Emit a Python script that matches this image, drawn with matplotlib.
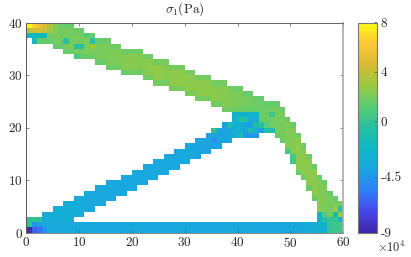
import numpy as np
import matplotlib
matplotlib.use('Agg')
import matplotlib.pyplot as plt
from matplotlib.colors import LinearSegmentedColormap

# band outlines per column (row numbers, 0 = bottom)
upper_top = [39]*9 + [38]*2 + [37]*2 + [36]*3 + [35]*2 + [34]*4 + [33]*2 + [32]*3 + [31]*3 + [30]*2 + [29]*3 + [28]*3 + [27]*3 + [26]*2 + [25]*2 + [24]*3 + [23, 21, 20, 18, 16, 14, 12, 10, 9, 7, 6, 5]
upper_low = [37] + [36]*4 + [35]*2 + [34]*2 + [33]*4 + [32]*2 + [31]*3 + [30]*4 + [29]*2 + [28]*3 + [27]*3 + [26]*2 + [25]*3 + [24]*2 + [23]*7 + [19]*3 + [18, 17, 15, 13, 11, 10, 8, 6, 0, 0, 0, 0, 0]
strut_top = [2]*3 + [3]*2 + [4]*2 + [5]*2 + [6]*2 + [7]*2 + [8]*2 + [9]*3 + [10]*2 + [11]*2 + [12]*2 + [13]*2 + [14]*2 + [15]*2 + [16]*2 + [17]*2 + [18] + [19]*2 + [20]*2 + [22]*5
strut_low = [0]*9 + [3]*2 + [4]*2 + [5]*2 + [6]*2 + [7]*2 + [8]*2 + [9]*2 + [10]*2 + [11]*2 + [12]*2 + [13]*2 + [14]*2 + [15]*2 + [16]*2 + [17]*2 + [18]*5

# stress values, units of 1e4 Pa
upper_mid = [1.7, 1.8, 1.8, 1.8, 1.9, 1.9, 1.9, 2.0, 1.9, 2.0, 1.9, 2.1, 2.0, 2.0, 2.1, 2.1,
             2.1, 2.2, 2.3, 2.4, 2.4, 2.3, 2.4, 2.5, 2.5, 2.5, 2.4, 2.5, 2.6, 2.5, 2.5, 2.6,
             2.5, 2.5, 2.6, 2.5, 2.4, 2.4, 2.2, 2.1, 2.1, 1.9, 1.8, 1.8, 1.7, 1.7, 1.8, 1.9,
             2.0, 2.2, 2.3, 2.5, 2.6, 2.6, 2.5, 2.3, 2.1, 2.0, 1.8, 1.7]
upper_edge = [1.4, 1.4, 1.4, 1.5, 1.5, 1.5, 1.5, 1.5, 1.5, 1.6, 1.6, 1.6, 1.6, 1.6, 1.6, 1.7,
              1.7, 1.7, 1.7, 1.7, 1.7, 1.7, 1.8, 1.8, 1.9, 1.9, 1.9, 1.9, 1.9, 1.9, 2.0, 2.0,
              1.9, 1.9, 1.9, 1.9, 1.8, 1.8, 1.7, 1.7, 1.7, 1.6, 1.6, 1.6, 1.6, 1.6, 1.6, 1.6,
              1.6, 1.7, 1.7, 1.7, 1.7, 1.7, 1.6, 1.6, 1.5, 1.5, 1.5, 1.5]
strut_vals = [-3.4, -3.4, -3.4, -3.3, -3.2, -3.2, -3.2, -3.1, -3.1, -3.3, -3.5, -3.6, -3.7, -3.7, -3.7, -3.7,
              -3.7, -3.8, -3.8, -3.8, -3.8, -3.8, -3.8, -3.8, -3.8, -3.8, -3.8, -3.8, -3.8, -3.8, -3.8, -3.8,
              -3.9, -3.9, -3.9, -4.0, -3.9, -3.9, -3.7, -3.2, -3.0, -3.0, -3.0, -3.0]
chord_vals = [-3.6, -3.6, -3.6, -3.5, -3.5, -3.5, -3.5, -3.5, -3.5, -3.6, -3.7, -3.7, -3.7, -3.7, -3.7, -3.7,
              -3.7, -3.7, -3.7, -3.7, -3.7, -3.7, -3.7, -3.7, -3.7, -3.7, -3.7, -3.7, -3.7, -3.7, -3.7, -3.7,
              -3.7, -3.7, -3.7, -3.7, -3.7, -3.7, -3.7, -3.7, -3.7, -3.7, -3.7, -3.7, -3.7, -3.7, -3.7, -3.7,
              -3.7, -3.6, -3.6, -3.6, -3.5, -3.4, -3.2, -3.0, -2.6, 0.0, 0.4, 0.3]

# cells that stand out, (row, col): value
spot_vals = {
    (39, 0): 8.0, (39, 1): 6.6, (39, 2): 5.6, (39, 3): 4.8, (39, 4): 3.5, (39, 5): 2.5,
    (38, 0): 3.6, (38, 1): 4.2, (38, 2): 4.5, (38, 3): 4.2, (38, 4): 3.2, (38, 5): 2.3,
    (37, 0): -2.0, (37, 1): -2.0, (37, 2): -2.0, (37, 3): -2.0, (36, 1): -1.8,
    (36, 7): -0.5, (36, 12): -0.5, (37, 11): 1.0, (35, 9): -0.4, (35, 10): -0.4,
    (35, 12): 3.0, (33, 9): 0.6,
    (2, 0): -0.2, (2, 1): -0.2, (2, 2): -0.4, (1, 0): -0.2, (1, 1): -4.6, (1, 2): -4.4,
    (0, 0): -8.8, (0, 1): -6.6, (0, 2): -6.0, (0, 3): -5.0,
    (22, 39): -2.8, (22, 40): -2.8, (22, 41): -2.8, (22, 42): -2.6, (22, 43): -2.6, (22, 46): 0.3,
    (21, 39): -2.6, (21, 40): -0.6, (21, 41): -0.6, (21, 42): -3.0, (21, 43): -3.4,
    (20, 37): -4.2, (20, 38): -1.0, (20, 39): -3.0, (20, 40): -3.0, (20, 41): -3.6, (20, 42): -4.2,
    (20, 43): -1.0, (20, 44): -0.5, (20, 45): 1.0,
    (19, 35): -0.2, (19, 41): -4.0, (19, 42): -1.0, (19, 43): -3.2, (19, 44): -4.4, (19, 45): -1.0, (19, 46): -1.0,
    (18, 40): -1.0, (18, 41): -4.5, (18, 42): -4.5, (18, 43): -4.5, (17, 35): -5.0,
    (15, 49): 0.3, (14, 50): 0.3, (13, 50): 0.3,
    (5, 59): 2.0, (4, 58): 3.0, (4, 59): -0.5,
    (3, 55): -2.5, (3, 56): 1.0, (3, 58): -1.5, (3, 59): 3.0,
    (2, 55): -2.2, (2, 56): -0.5, (2, 57): 0.0, (2, 58): 0.0, (2, 59): -2.2,
    (1, 55): -2.5, (1, 56): -2.2, (0, 55): -3.3, (0, 56): -3.3,
}

x_ticks = [0, 10, 20, 30, 40, 50, 60]
y_ticks = [0, 10, 20, 30, 40]
cbar_ticks = [-9, -4.5, 0, 4, 8]
cbar_labels = ['-9', '-4.5', '0', '4', '8']

# parula, sampled by eye from the colorbar
parula_colors = [(0.2422, 0.1504, 0.6603), (0.2780, 0.2800, 0.9200), (0.1800, 0.5000, 0.9700),
                 (0.1000, 0.6500, 0.8800), (0.0500, 0.7200, 0.7700), (0.1500, 0.7500, 0.6300),
                 (0.3500, 0.8000, 0.4600), (0.6000, 0.7900, 0.2500), (0.8500, 0.7300, 0.2000),
                 (0.9900, 0.7800, 0.2200), (0.9769, 0.9839, 0.0805)]
parula = LinearSegmentedColormap.from_list('parula', parula_colors, N=256)

grid = np.full((40, 60), np.nan)
for col in range(60):
    grid[upper_low[col]:upper_top[col] + 1, col] = upper_mid[col]
    grid[upper_top[col], col] = upper_edge[col]
    if upper_low[col] > 0:
        grid[upper_low[col], col] = upper_edge[col]
for col in range(len(strut_top)):
    grid[strut_low[col]:strut_top[col] + 1, col] = strut_vals[col]
for col in range(60):
    grid[0:2, col] = chord_vals[col]
for (row, col), val in spot_vals.items():
    grid[row, col] = val

plt.rcParams['font.family'] = 'cmr10'
plt.rcParams['mathtext.fontset'] = 'cm'
plt.rcParams['axes.unicode_minus'] = False
plt.rcParams['axes.formatter.use_mathtext'] = True

fig = plt.figure(figsize=(4.11, 2.57), dpi=100)
ax = fig.add_axes([26.3 / 411, 1 - 232.5 / 257, 317 / 411, 210 / 257])
im = ax.pcolormesh(np.arange(61), np.arange(41), np.ma.masked_invalid(grid),
                   cmap=parula, vmin=-9, vmax=8, edgecolors='none')
ax.set_xlim(0, 60)
ax.set_ylim(0, 40)
ax.set_xticks(x_ticks)
ax.set_yticks(y_ticks)
ax.tick_params(direction='in', length=2.2, width=0.5, top=True, right=True,
               labelsize=9.5, color='#555555', labelcolor='#262626', pad=2.5)
ax.spines['left'].set_color('#555555')
ax.spines['top'].set_color('#666666')
ax.spines['right'].set_color('#aaaaaa')
ax.spines['bottom'].set_color('#888888')
for side in ax.spines:
    ax.spines[side].set_linewidth(0.7)
ax.spines['right'].set_linewidth(1.2)
ax.set_title(r'$\sigma_1$(Pa)', fontsize=9.5, pad=7, color='#262626')

cax = fig.add_axes([358 / 411, 1 - 232.5 / 257, 18.5 / 411, 210 / 257])
cbar = fig.colorbar(im, cax=cax)
cbar.set_ticks(cbar_ticks)
cbar.set_ticklabels(cbar_labels)
cbar.ax.tick_params(direction='in', length=2, width=0.5, labelsize=9.5,
                    color='#555555', labelcolor='#262626', pad=3)
cbar.outline.set_edgecolor('#777777')
cbar.outline.set_linewidth(0.8)
fig.text(377 / 411, 1 - 247 / 257, r'$\times 10^{4}$', fontsize=9, color='#262626',
         ha='left', va='center')

fig.savefig('out.png', dpi=100)
